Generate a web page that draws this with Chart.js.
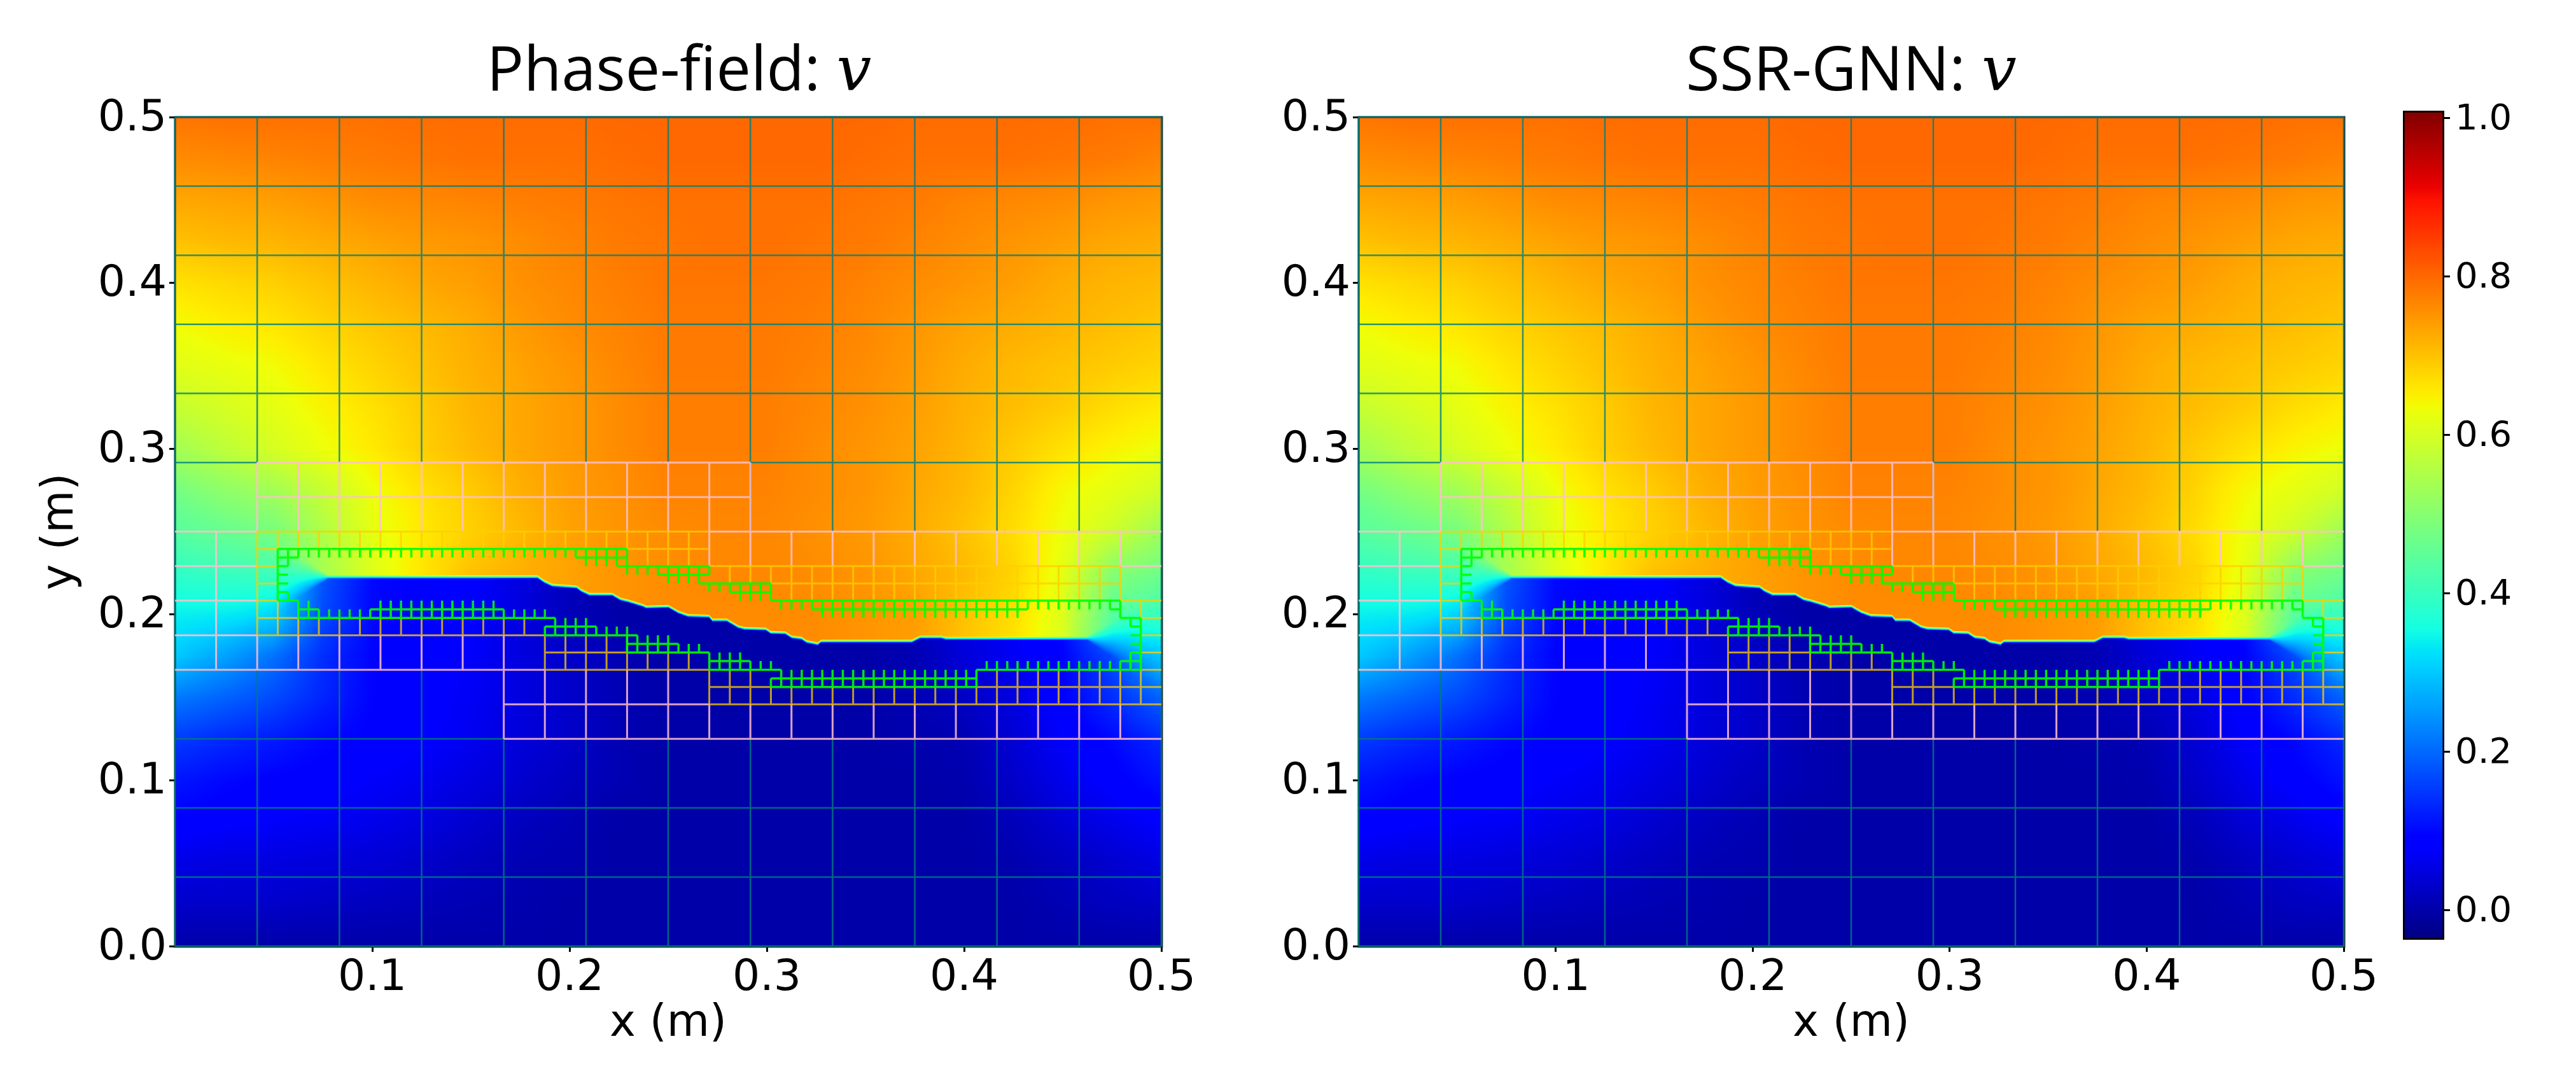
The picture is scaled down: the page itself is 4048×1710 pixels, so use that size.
<!DOCTYPE html>
<html>
<head>
<meta charset="utf-8">
<title>Phase-field vs SSR-GNN</title>
<script src="https://cdn.jsdelivr.net/npm/chart.js@4"></script>
<style>
  body { margin: 0; background: #fff; }
  canvas { position: absolute; top: 0; }
</style>
</head>
<body>
<canvas id="panelPhase" width="2134" height="1710" style="left:0"></canvas>
<canvas id="panelGnn" width="1818" height="1710" style="left:2000px"></canvas>
<canvas id="colorbar" width="348" height="1710" style="left:3700px"></canvas>
<script>
const titles = ["Phase-field: \u{1D463}", "SSR-GNN: \u{1D463}"];
const xTicks = [0.1, 0.2, 0.3, 0.4, 0.5];
const yTicks = [0, 0.1, 0.2, 0.3, 0.4, 0.5];
const barTicks = [0, 0.2, 0.4, 0.6, 0.8, 1];
const barMin = -0.037;
const barMax = 1.009;

// field, nodes every 0.025 m
const gridX = [0, .025, .05, .075, .1, .125, .15, .175, .2, .225, .25, .275, .3, .325, .35, .375, .4, .425, .45, .475, .5];
const upperY = [.5, .475, .45, .425, .4, .375, .35, .325, .3, .275, .25, .225, .2, .175];
const upperField = [
  [.785, .79, .79, .79, .79, .795, .795, .795, .795, .80, .80, .80, .80, .80, .80, .795, .795, .795, .795, .79, .79],
  [.76, .765, .77, .775, .78, .785, .79, .79, .79, .795, .80, .80, .80, .80, .795, .79, .79, .79, .785, .78, .77],
  [.73, .735, .74, .75, .76, .765, .77, .775, .78, .785, .79, .79, .79, .79, .785, .78, .77, .765, .76, .75, .745],
  [.70, .71, .715, .725, .735, .745, .75, .76, .77, .78, .785, .79, .79, .785, .78, .77, .76, .75, .74, .73, .725],
  [.665, .675, .685, .70, .715, .73, .74, .755, .765, .775, .785, .785, .785, .78, .77, .76, .75, .74, .725, .715, .71],
  [.635, .65, .66, .68, .695, .71, .725, .745, .76, .77, .78, .78, .78, .775, .765, .75, .735, .725, .715, .705, .695],
  [.615, .625, .635, .66, .68, .70, .72, .735, .75, .765, .78, .78, .78, .77, .76, .745, .725, .71, .70, .69, .68],
  [.58, .60, .62, .645, .665, .69, .715, .73, .745, .76, .775, .775, .775, .765, .755, .74, .72, .705, .69, .67, .655],
  [.535, .57, .60, .63, .655, .685, .71, .73, .745, .76, .775, .775, .775, .76, .75, .735, .715, .69, .665, .645, .63],
  [.48, .51, .535, .58, .63, .665, .69, .72, .74, .755, .77, .77, .77, .76, .75, .73, .71, .68, .64, .62, .595],
  [.44, .46, .48, .55, .62, .655, .685, .71, .735, .75, .76, .765, .765, .755, .745, .725, .70, .67, .63, .59, .53],
  [.39, .41, .44, .54, .61, .66, .70, .72, .735, .75, .76, .765, .765, .76, .75, .73, .71, .68, .62, .50, .47],
  [.34, .35, .38, .54, .62, .66, .70, .72, .74, .75, .76, .76, .76, .76, .75, .74, .70, .67, .61, .44, .41],
  [.30, .30, .33, .50, .62, .66, .70, .72, .74, .75, .76, .76, .76, .76, .75, .74, .70, .66, .60, .40, .31]
];
const lowerY = [.25, .225, .2, .175, .15, .125, .1, .075, .05, .025, 0];
const lowerField = [
  [.44, .46, .46, .20, .10, .09, .07, .04, .02, 0, 0, 0, 0, 0, 0, 0, .04, .07, .10, .38, .53],
  [.39, .39, .37, .18, .10, .09, .08, .05, .02, 0, 0, 0, 0, 0, 0, .01, .05, .075, .10, .34, .47],
  [.34, .33, .31, .17, .10, .09, .08, .05, .015, 0, 0, 0, 0, 0, 0, .02, .05, .075, .10, .26, .37],
  [.30, .26, .21, .14, .095, .085, .075, .05, .03, .01, 0, 0, 0, 0, 0, .01, .045, .07, .095, .17, .29],
  [.22, .195, .17, .13, .095, .085, .07, .05, .03, .01, 0, 0, 0, 0, 0, .01, .025, .05, .09, .14, .195],
  [.155, .135, .12, .10, .09, .08, .065, .045, .03, .01, 0, 0, 0, 0, 0, .005, .01, .04, .075, .10, .135],
  [.115, .10, .09, .085, .075, .065, .05, .035, .02, .01, 0, 0, 0, 0, 0, 0, .005, .03, .06, .085, .11],
  [.09, .08, .075, .07, .06, .05, .035, .02, .01, 0, 0, 0, 0, 0, 0, 0, 0, .015, .04, .06, .08],
  [.055, .05, .05, .045, .04, .03, .02, .01, .005, 0, 0, 0, 0, 0, 0, 0, 0, .005, .02, .035, .05],
  [.03, .03, .03, .025, .02, .015, .01, .005, 0, 0, 0, 0, 0, 0, 0, 0, 0, 0, .01, .02, .025],
  [0, 0, 0, 0, 0, 0, 0, 0, 0, 0, 0, 0, 0, 0, 0, 0, 0, 0, 0, 0, 0]
];

// crack path
const crackX = [.0776, .1838, .1871, .1912, .2036, .2060, .2101, .2216, .2258, .2299, .2373, .2389, .2501, .2551, .2600, .2707, .2724, .2797, .2855, .2888, .2995, .3020, .3094, .3127, .3176, .3201, .3258, .3275, .3735, .3777, .3884, .3908, .4625];
const crackY = [.2226, .2226, .2199, .2176, .2165, .2144, .2121, .2121, .2092, .2080, .2053, .2044, .2048, .2014, .1993, .1989, .1966, .1966, .1925, .1915, .1911, .1891, .1888, .1863, .1856, .1836, .1822, .1838, .1838, .1863, .1863, .1856, .1856];

// mesh, in units of 1/96 of the axis. horizontal: [y, x0, x1], vertical runs: [x0, x1, step, y0, y1]
const tealH = [[96,0,96],[88,0,96],[80,0,96],[72,0,96],[64,0,96],[56,0,8],[56,56,96],[24,0,32],[16,0,96],[8,0,96],[0,0,96]];
const tealV = [[0,0,1,0,96],[96,96,1,0,96],[8,48,8,56,96],[56,88,8,48,96],[8,24,8,0,32],[32,88,8,0,24]];
const pinkH = [[56,8,56],[52,8,56],[48,0,8],[48,52,96],[44,0,8],[44,92,96],[40,0,8],[36,0,8],[32,0,36],[28,32,52],[24,32,96]];
const pinkV = [[4,4,1,32,48],[8,8,1,32,36],[8,8,1,48,56],[12,56,4,48,56],[52,92,4,44,48],[12,32,4,32,36],[32,92,4,24,28],[32,48,4,28,32]];
const yellowH = [[48,8,52],[46,8,10],[46,44,52],[44,8,10],[44,52,92],[42,8,10],[42,58,92],[40,8,10],[40,92,96],[38,8,12],[38,94,96],[36,8,36],[36,94,96],[34,36,44],[34,94,96],[32,36,52],[32,94,96],[30,52,58],[30,78,96],[28,52,96]];
const yellowV = [[8,8,1,36,48],[10,44,2,46,48],[46,50,2,44,48],[10,12,2,36,38],[10,10,1,38,40],[14,34,2,36,38],[36,36,1,32,36],[38,44,2,32,36],[46,50,2,32,34],[52,52,1,28,32],[54,56,2,28,32],[58,78,2,28,30],[80,94,2,28,32],[94,94,1,38,40],[58,90,2,40,44],[54,56,2,42,44],[92,92,1,40,44]];
const greenH = [[46,10,44],[45,10,12],[45,39,44],[44,10,11],[44,43,52],[43,10,11],[43,47,52],[42,10,11],[42,51,58],[41,10,11],[41,54,58],[40,10,12],[40,58,92],[39,12,14],[39,19,32],[39,62,83],[39,91,92],[38,12,37],[38,92,94],[37,36,41],[37,93,94],[36,36,45],[36,93,94],[35,44,49],[35,93,94],[34,44,52],[34,93,94],[33,52,56],[33,92,94],[32,52,59],[32,78,94],[31,58,78],[30,58,78]];
const greenV = [[10,10,1,40,46],[11,11,1,44,46],[12,39,1,45,46],[40,44,1,44,46],[44,47,1,43,44],[48,50,1,42,44],[51,51,1,42,44],[52,52,1,43,44],[11,11,1,40,41],[12,13,1,38,40],[14,18,1,38,39],[19,32,1,38,39],[20,31,1,39,40],[33,36,1,38,39],[37,37,1,36,38],[36,36,1,36,37],[38,40,1,36,38],[41,44,1,36,37],[44,48,1,34,36],[49,51,1,34,35],[52,52,1,32,34],[53,55,1,33,34],[53,58,1,32,33],[58,58,1,30,31],[59,59,1,30,32],[60,77,1,30,32],[78,78,1,30,32],[79,93,1,32,33],[93,93,1,32,34],[94,94,1,32,38],[93,93,1,37,38],[92,92,1,38,40],[59,91,1,39,40],[63,82,1,38,39],[55,58,1,40,41],[52,58,1,41,42]];

const meshUnit = 0.5 / 96;
const FONT = "'DejaVu Sans'";

function meshLines(hLines, vRuns) {
    const pts = [];
    const gap = { x: NaN, y: NaN };
    hLines.forEach(([y, x0, x1]) => {
        pts.push({ x: x0 * meshUnit, y: y * meshUnit }, { x: x1 * meshUnit, y: y * meshUnit }, gap);
    });
    vRuns.forEach(([x0, x1, step, y0, y1]) => {
        for (let x = x0; x <= x1; x += step) {
            pts.push({ x: x * meshUnit, y: y0 * meshUnit }, { x: x * meshUnit, y: y1 * meshUnit }, gap);
        }
    });
    return pts;
}

function ramp(t, stops) {
    for (let i = 1; i < stops.length; i++) {
        if (t <= stops[i][0]) {
            const [a, va] = stops[i - 1];
            const [b, vb] = stops[i];
            return va + (vb - va) * (t - a) / (b - a);
        }
    }
    return stops[stops.length - 1][1];
}

const jetR = [[0, 0], [.35, 0], [.66, 1], [.89, 1], [1, .5]];
const jetG = [[0, 0], [.125, 0], [.375, 1], [.64, 1], [.91, 0], [1, 0]];
const jetB = [[0, .5], [.11, 1], [.34, 1], [.65, 0], [1, 0]];

function jet(t) {
    t = Math.min(1, Math.max(0, t));
    return [ramp(t, jetR) * 255, ramp(t, jetG) * 255, ramp(t, jetB) * 255];
}

const jetLut = Array.from({ length: 2048 }, (_, i) => jet(i / 2047));

function segment(list, v) {
    // list may run upwards or downwards
    const n = list.length - 1;
    const down = list[0] > list[n];
    let i = 0;
    while (i < n - 1 && (down ? list[i + 1] >= v : list[i + 1] <= v)) i++;
    const f = (v - list[i]) / (list[i + 1] - list[i]);
    return [i, Math.min(1, Math.max(0, f))];
}

function sample(field, rows, x, y) {
    const [c, fx] = segment(gridX, x);
    const [r, fy] = segment(rows, y);
    const top = field[r][c] * (1 - fx) + field[r][c + 1] * fx;
    const bot = field[r + 1][c] * (1 - fx) + field[r + 1][c + 1] * fx;
    return top * (1 - fy) + bot * fy;
}

function crackAt(x) {
    const last = crackX.length - 1;
    if (x <= crackX[0]) return crackY[0];
    if (x >= crackX[last]) return crackY[last];
    const [i, f] = segment(crackX, x);
    return crackY[i] + (crackY[i + 1] - crackY[i]) * f;
}

// field painted pixel by pixel through the chart scales
const fieldPlugin = {
    id: "fieldPlugin",
    beforeDatasetsDraw(chart) {
        const { ctx, chartArea: a, scales } = chart;
        const w = Math.round(a.right - a.left);
        const h = Math.round(a.bottom - a.top);
        const off = document.createElement("canvas");
        off.width = w;
        off.height = h;
        const octx = off.getContext("2d");
        const img = octx.createImageData(w, h);
        const tipL = scales.x.getPixelForValue(crackX[0]);
        const tipR = scales.x.getPixelForValue(crackX[crackX.length - 1]);
        for (let px = 0; px < w; px++) {
            const xp = a.left + px + 0.5;
            const x = scales.x.getValueForPixel(xp);
            const crackPx = scales.y.getPixelForValue(crackAt(x));
            const tipDist = xp < tipL ? tipL - xp : xp > tipR ? xp - tipR : 0;
            const band = 6 + tipDist * 1.3;
            for (let py = 0; py < h; py++) {
                const yp = a.top + py + 0.5;
                const y = scales.y.getValueForPixel(yp);
                const s = Math.min(1, Math.max(0, 0.5 + (crackPx - yp) / band));
                let v;
                if (s >= 1) v = sample(upperField, upperY, x, y);
                else if (s <= 0) v = sample(lowerField, lowerY, x, y);
                else v = sample(upperField, upperY, x, y) * s + sample(lowerField, lowerY, x, y) * (1 - s);
                const t = (v - barMin) / (barMax - barMin);
                const c = jetLut[Math.round(Math.min(1, Math.max(0, t)) * 2047)];
                const o = (py * w + px) * 4;
                img.data[o] = c[0];
                img.data[o + 1] = c[1];
                img.data[o + 2] = c[2];
                img.data[o + 3] = 255;
            }
        }
        octx.putImageData(img, 0, 0);
        ctx.drawImage(off, a.left, a.top);
        ctx.save();
        ctx.strokeStyle = "#1a2a2a";
        ctx.lineWidth = 3;
        ctx.strokeRect(a.left, a.top, w + 1, h + 1);
        ctx.restore();
    },
};

function meshSet(hLines, vRuns, color, width, order) {
    return {
        data: meshLines(hLines, vRuns),
        showLine: true,
        borderColor: color,
        borderWidth: width,
        pointRadius: 0,
        spanGaps: false,
        clip: 4,
        order,
    };
}

function createPanel(id, title, areaLeft, areaRight, canvasWidth, titleTop) {
    const ctx = document.getElementById(id).getContext("2d");
    new Chart(ctx, {
        type: "scatter",
        data: {
            datasets: [
                meshSet(greenH, greenV, "rgba(0,255,0,0.9)", 3.5, 0),
                meshSet(yellowH, yellowV, "rgba(255,205,0,0.75)", 3, 1),
                meshSet(pinkH, pinkV, "rgba(255,192,203,0.85)", 3, 2),
                meshSet(tealH, tealV, "rgba(0,125,125,0.8)", 2.5, 3),
            ],
        },
        options: {
            responsive: false,
            animation: false,
            devicePixelRatio: 1,
            plugins: {
                legend: { display: false },
                tooltip: { enabled: false },
                title: {
                    display: true,
                    text: title,
                    color: "#000",
                    font: { family: "'Open Sans','DejaVu Serif'", size: 97, weight: "normal", lineHeight: 1 },
                    padding: { top: titleTop, bottom: 184 - titleTop - 97 },
                },
            },
            scales: {
                x: {
                    type: "linear",
                    min: 0,
                    max: 0.5,
                    afterBuildTicks: (axis) => { axis.ticks = xTicks.map((value) => ({ value })); },
                    afterFit: (axis) => { axis.height = 223; },
                    border: { color: "#000", width: 3 },
                    grid: { drawOnChartArea: false, tickLength: 9, tickWidth: 3, tickColor: "#000" },
                    ticks: { color: "#000", font: { family: FONT, size: 68 }, padding: 2, maxRotation: 0, autoSkip: false, callback: (v) => v.toFixed(1) },
                    title: { display: true, text: "x (m)", color: "#000", font: { family: FONT, size: 69, lineHeight: 1 }, padding: { top: 0, bottom: 65 } },
                },
                y: {
                    type: "linear",
                    min: 0,
                    max: 0.5,
                    afterBuildTicks: (axis) => { axis.ticks = yTicks.map((value) => ({ value })); },
                    afterFit: (axis) => { axis.width = areaLeft; },
                    border: { color: "#000", width: 3 },
                    grid: { drawOnChartArea: false, tickLength: 9, tickWidth: 3, tickColor: "#000" },
                    ticks: { color: "#000", font: { family: FONT, size: 68 }, padding: 4, labelOffset: 3, autoSkip: false, callback: (v) => v.toFixed(1) },
                    title: { display: true, text: "y (m)", color: "#000", font: { family: FONT, size: 69, lineHeight: 1 }, padding: { top: areaLeft - 275 + 62, bottom: 0 } },
                },
                // empty right axis keeps the title centred on the canvas
                spacer: {
                    axis: "y",
                    position: "right",
                    grid: { display: false },
                    border: { display: false },
                    ticks: { display: false },
                    afterFit: (axis) => { axis.width = canvasWidth - areaRight; },
                },
            },
        },
        plugins: [fieldPlugin],
    });
}

function createColorbar() {
    const ctx = document.getElementById("colorbar").getContext("2d");
    new Chart(ctx, {
        type: "bar",
        data: {
            labels: ["v"],
            datasets: [{
                data: [[barMin, barMax]],
                categoryPercentage: 1,
                barPercentage: 1,
                borderColor: "#000",
                borderWidth: 3,
                borderSkipped: false,
                backgroundColor: (c) => {
                    const { chart } = c;
                    if (!chart.chartArea) return "#000";
                    const g = chart.ctx.createLinearGradient(0, chart.scales.y.getPixelForValue(barMin), 0, chart.scales.y.getPixelForValue(barMax));
                    jetLut.forEach((rgb, i) => {
                        if (i % 16 === 0 || i === 2047) g.addColorStop(i / 2047, `rgb(${rgb[0]},${rgb[1]},${rgb[2]})`);
                    });
                    return g;
                },
            }],
        },
        options: {
            responsive: false,
            animation: false,
            devicePixelRatio: 1,
            layout: { padding: { left: 76, right: 0, top: 174, bottom: 1710 - 1477 } },
            plugins: { legend: { display: false }, tooltip: { enabled: false } },
            scales: {
                x: { display: false, offset: true, grid: { display: false } },
                y: {
                    position: "right",
                    min: barMin,
                    max: barMax,
                    afterBuildTicks: (axis) => { axis.ticks = barTicks.map((value) => ({ value })); },
                    afterFit: (axis) => { axis.width = 348 - 76 - 65; },
                    border: { display: false },
                    grid: { drawOnChartArea: false, tickLength: 9, tickWidth: 3, tickColor: "#000" },
                    ticks: { color: "#000", font: { family: FONT, size: 56 }, padding: 8, labelOffset: 3, autoSkip: false, callback: (v) => v.toFixed(1) },
                },
            },
        },
    });
}

createPanel("panelPhase", titles[0], 275, 1825, 2134, 66);
createPanel("panelGnn", titles[1], 135, 1683, 1818, 66);
createColorbar();
</script>
</body>
</html>
